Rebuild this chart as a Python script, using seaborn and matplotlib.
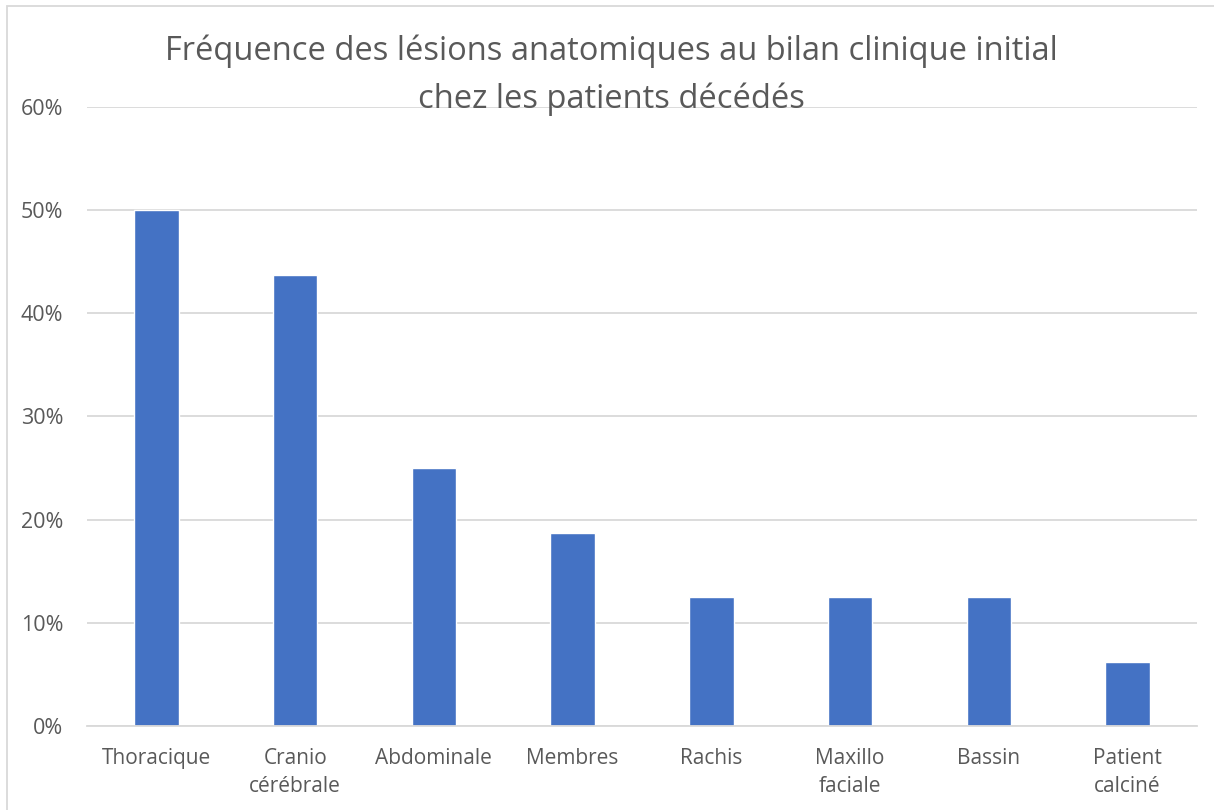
import pandas as pd
import seaborn as sns
import matplotlib.pyplot as plt
from matplotlib.patches import Rectangle
from matplotlib.ticker import PercentFormatter

categories = ["Thoracique", "Cranio\ncérébrale", "Abdominale", "Membres",
              "Rachis", "Maxillo\nfaciale", "Bassin", "Patient\ncalciné"]
frequences = [0.50, 0.4375, 0.25, 0.1875, 0.125, 0.125, 0.125, 0.0625]

df = pd.DataFrame({"lesion": categories, "freq": frequences})

sns.set_style("white")
plt.rcParams['font.family'] = ['Open Sans', 'DejaVu Sans']

fig = plt.figure(figsize=(12.14, 8.1), dpi=100)
ax = fig.add_axes([0.0717, 0.1037, 0.9143, 0.7643])

sns.barplot(data=df, x="lesion", y="freq", color="#4472C4", width=0.32,
            saturation=1, ax=ax)

ax.set_ylim(0, 0.6)
ax.set_xlim(-0.5, 7.5)
ax.set_yticks([0, 0.1, 0.2, 0.3, 0.4, 0.5, 0.6])
ax.yaxis.set_major_formatter(PercentFormatter(1.0, decimals=0))
ax.grid(axis="y", color="#D9D9D9", linewidth=1.3)
ax.set_axisbelow(True)
for s in ["top", "right", "left"]:
    ax.spines[s].set_visible(False)
ax.spines["bottom"].set_color("#D9D9D9")
ax.spines["bottom"].set_linewidth(1.3)
ax.tick_params(axis="both", length=0, labelsize=15, labelcolor="#595959")
ax.tick_params(axis="y", pad=17, labelsize=15.5)
ax.tick_params(axis="x", pad=16)
for lbl in ax.get_xticklabels():
    lbl.set_linespacing(1.45)
ax.set_xlabel("")
ax.set_ylabel("")

fig.text(0.504, 0.907, "Fréquence des lésions anatomiques au bilan clinique initial\nchez les patients décédés",
         ha="center", va="center", fontsize=23.5, color="#595959", linespacing=1.55)

# outer chart frame
fig.patches.append(Rectangle((0.006, -0.01), 1.1, 1.0026, transform=fig.transFigure,
                             fill=False, edgecolor="#D9D9D9", linewidth=1.3))

plt.savefig("out.png", dpi=100)
plt.close()
